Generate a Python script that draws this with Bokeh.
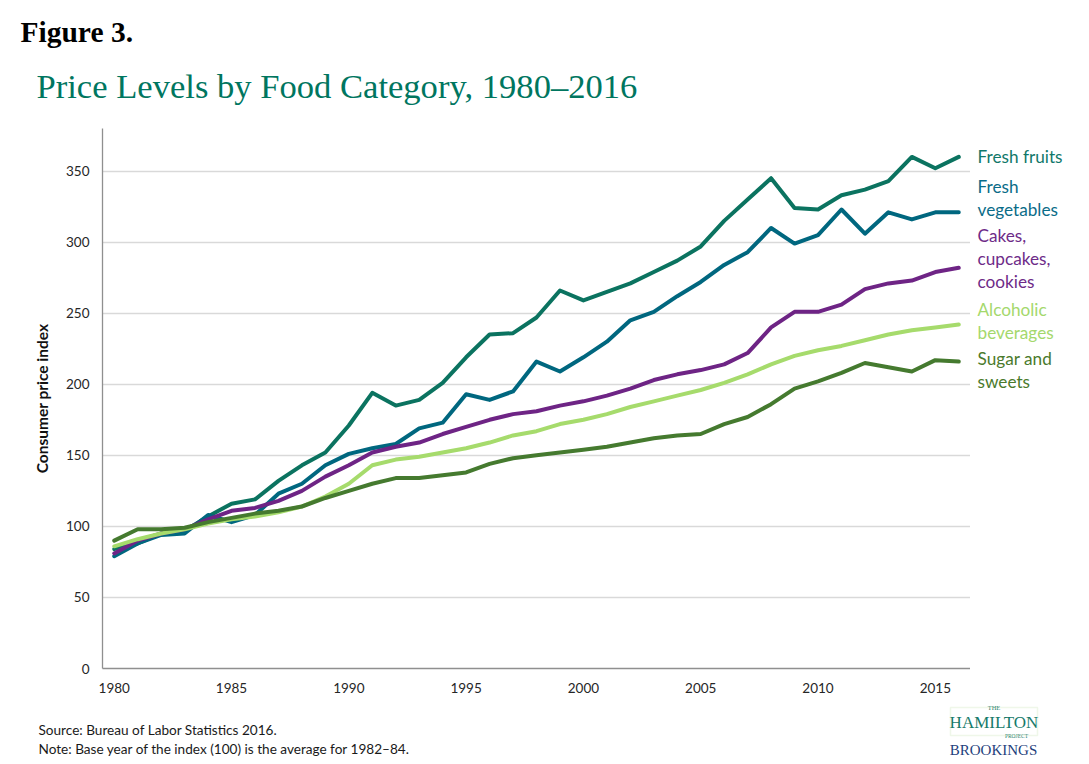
from bokeh.plotting import figure
from bokeh.models import Range1d, FixedTicker, BoxAnnotation
from bokeh.layouts import column, row
from bokeh.core.properties import value
from bokeh.embed import file_html
from bokeh.resources import INLINE

years = list(range(1980, 2017))
fresh_fruits = [84, 88, 95, 97, 107, 116, 119, 132, 143, 152,
                171, 194, 185, 189, 201, 219, 235, 236, 247, 266,
                259, 265, 271, 279, 287, 297, 315, 330, 345, 324,
                323, 333, 337, 343, 360, 352, 360]
fresh_vegetables = [79, 88, 94, 95, 108, 103, 108, 123, 130, 143,
                    151, 155, 158, 169, 173, 193, 189, 195, 216, 209,
                    219, 230, 245, 251, 262, 272, 284, 293, 310, 299,
                    305, 323, 306, 321, 316, 321, 321]
cakes_cookies = [81, 90, 95, 98, 105, 111, 113, 118, 125, 135,
                 143, 152, 156, 159, 165, 170, 175, 179, 181, 185,
                 188, 192, 197, 203, 207, 210, 214, 222, 240, 251,
                 251, 256, 267, 271, 273, 279, 282]
alcoholic_beverages = [86, 91, 95, 98, 102, 105, 107, 110, 114, 121,
                       130, 143, 147, 149, 152, 155, 159, 164, 167, 172,
                       175, 179, 184, 188, 192, 196, 201, 207, 214, 220,
                       224, 227, 231, 235, 238, 240, 242]
sugar_sweets = [90, 98, 98, 99, 103, 106, 109, 111, 114, 120,
                125, 130, 134, 134, 136, 138, 144, 148, 150, 152,
                154, 156, 159, 162, 164, 165, 172, 177, 186, 197,
                202, 208, 215, 212, 209, 217, 216]

series_names = ["Fresh fruits", "Fresh\nvegetables", "Cakes,\ncupcakes,\ncookies",
                "Alcoholic\nbeverages", "Sugar and\nsweets"]
series_values = [fresh_fruits, fresh_vegetables, cakes_cookies, alcoholic_beverages, sugar_sweets]
series_colors = ["#0b7360", "#00677f", "#6e2485", "#a6db6c", "#457a2f"]
label_colors = ["#11786a", "#0a6c88", "#6e2b88", "#a4d86c", "#4a7a2c"]

y_ticks = [0, 50, 100, 150, 200, 250, 300, 350]
x_ticks = [1980, 1985, 1990, 1995, 2000, 2005, 2010, 2015]

FONT = "Lato"
SERIF = "Liberation Serif"

W, H = 1089, 764
FL, FR = 102, 970      # frame left/right (px)
FT, FB = 128, 668      # frame top/bottom (px)
BOT = 702              # bottom of main row
Y_END = 380.0
X0, X1 = 1979.5, 2016.5


def dy(py):
    return (FB - py) * Y_END / (FB - FT)


def blank(w, h, xr, yr):
    f = figure(width=w, height=h, x_range=xr, y_range=yr, output_backend="svg",
               toolbar_location=None, x_axis_location=None, y_axis_location=None,
               min_border_left=0, min_border_right=0, min_border_top=0, min_border_bottom=0)
    f.outline_line_color = None
    f.grid.visible = False
    f.background_fill_color = "white"
    f.border_fill_color = "white"
    return f


# ---- top: titles (pixel coordinates, y downward) ----
top = blank(W, FT, Range1d(0, W), Range1d(FT, 0))
top.text(x=[20], y=[31], text=["Figure 3."], text_font=value(SERIF), text_font_size="29.5px",
         text_font_style="bold", text_color="#000000", text_baseline="middle")
top.text(x=[36], y=[85], text=["Price Levels by Food Category, 1980\u20132016"],
         text_font=value(SERIF), text_font_size="34.6px", text_color="#00765f",
         text_baseline="middle")

# ---- main chart ----
p = figure(width=FR, height=BOT - FT, x_range=Range1d(X0, X1), y_range=Range1d(0, Y_END),
           output_backend="svg", toolbar_location=None,
           min_border_left=FL, min_border_right=0, min_border_top=0,
           min_border_bottom=BOT - FB)
p.outline_line_color = None
p.background_fill_color = "white"
p.border_fill_color = "white"
p.xgrid.grid_line_color = None
p.ygrid.grid_line_color = "#d9d9d9"
p.ygrid.grid_line_width = 1.3
p.yaxis.ticker = FixedTicker(ticks=y_ticks)
p.xaxis.ticker = FixedTicker(ticks=x_ticks)
for ax in (p.xaxis[0], p.yaxis[0]):
    ax.axis_line_color = "#8f8f8f"
    ax.axis_line_width = 1.3
    ax.major_tick_line_color = None
    ax.minor_tick_line_color = None
    ax.major_tick_out = 0
    ax.major_tick_in = 0
    ax.major_label_text_font = FONT
    ax.major_label_text_font_size = "13.5px"
    ax.major_label_text_color = "#262626"
p.yaxis.major_label_standoff = 13
p.xaxis.major_label_standoff = 14
p.yaxis.axis_label = "Consumer price index"
p.yaxis.axis_label_text_font = FONT
p.yaxis.axis_label_text_font_size = "15.5px"
p.yaxis.axis_label_text_font_style = "bold"
p.yaxis.axis_label_text_color = "#111111"
p.yaxis.axis_label_standoff = 12

for vals, col in zip(series_values, series_colors):
    p.line(years, vals, line_width=4, line_color=col, line_join="round", line_cap="round")

# ---- right: series labels, sharing the y range ----
right = blank(W - FR, BOT - FT, Range1d(0, W - FR), p.y_range)
right.min_border_bottom = BOT - FB
label_rows = [[156], [186, 209], [235, 258, 281], [309, 332], [358, 381]]
for name, rows, col in zip(series_names, label_rows, label_colors):
    parts = name.split("\n")
    right.text(x=[7] * len(parts), y=[dy(r) for r in rows], text=parts,
               text_font=value(FONT), text_font_size="17.2px", text_color=col,
               text_baseline="middle")

# ---- bottom: notes and logo (pixel coordinates, y downward) ----
bot = blank(W, H - BOT, Range1d(0, W), Range1d(H, BOT))
bot.text(x=[38, 38], y=[729, 748],
         text=["Source: Bureau of Labor Statistics 2016.",
               "Note: Base year of the index (100) is the average for 1982\u201384."],
         text_font=value(FONT), text_font_size="13.6px", text_color="#1a1a1a",
         text_baseline="middle")
bot.add_layout(BoxAnnotation(left=950, right=1037, top=707, bottom=735,
                             fill_alpha=0, line_color="#c9e3b5", line_width=1.5))
bot.text(x=[993.5], y=[722], text=["HAMILTON"], text_font=value(SERIF),
         text_font_size="17px", text_color="#167a6a", text_align="center",
         text_baseline="middle")
bot.rect(x=[993.5], y=[707], width=18, height=4, fill_color="white", line_color=None)
bot.text(x=[993.5], y=[707], text=["THE"], text_font=value(SERIF),
         text_font_size="6.5px", text_color="#167a6a", text_align="center",
         text_baseline="middle")
bot.rect(x=[1016], y=[735], width=28, height=4, fill_color="white", line_color=None)
bot.text(x=[1016], y=[735], text=["PROJECT"], text_font=value(SERIF),
         text_font_size="5.5px", text_color="#167a6a", text_align="center",
         text_baseline="middle")
bot.text(x=[993], y=[749], text=["BROOKINGS"], text_font=value(SERIF),
         text_font_size="15px", text_color="#1f3f7c", text_align="center",
         text_baseline="middle")

layout = column(top, row(p, right, spacing=0), bot, spacing=0)
open("out.html", "w").write(file_html(layout, INLINE))
